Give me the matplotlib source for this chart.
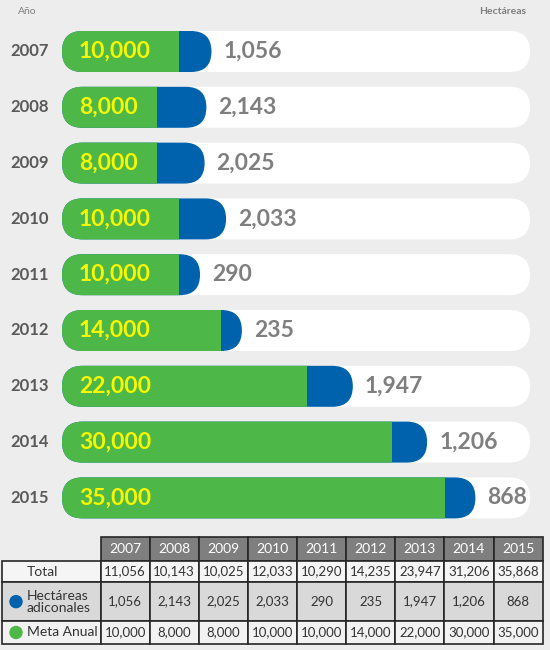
import matplotlib.pyplot as plt
from matplotlib.patches import FancyBboxPatch, Rectangle, Circle

plt.rcParams['font.family'] = ['Lato', 'DejaVu Sans']

# data
years = ['2007', '2008', '2009', '2010', '2011', '2012', '2013', '2014', '2015']
meta_anual = [10000, 8000, 8000, 10000, 10000, 14000, 22000, 30000, 35000]
hect_adicionales = [1056, 2143, 2025, 2033, 290, 235, 1947, 1206, 868]
totales = [11056, 10143, 10025, 12033, 10290, 14235, 23947, 31206, 35868]
row_labels = ['Total', 'Hectáreas\nadiconales', 'Meta Anual']

BG = '#ededed'
GREEN = '#4db848'
BLUE = '#0061ad'
YELLOW = '#f7f700'
GRAY = '#7f7f7f'

W, H = 550, 650
fig = plt.figure(figsize=(W / 100, H / 100), dpi=100, facecolor=BG)

# ---- bars: axes covering the top 530 px
px_per_unit = 0.01067          # hectares -> pixels
row_px = 55.8                  # pixels between rows
ax = fig.add_axes([0, (H - 530) / H, 1, 530 / H])
ax.set_xlim(-72 / px_per_unit, (W - 72) / px_per_unit)
ax.set_ylim((530 - 51.5) / row_px, -51.5 / row_px)
ax.axis('off')

ux = 1 / px_per_unit           # data x-units per pixel
uy = 1 / row_px                # data y-units per pixel
asp = uy / ux
bar_h = 41 * uy
rad = 20.5 * ux
x_left = -10 * ux
track_end = 458 * ux
style = f'round,pad=0,rounding_size={rad}'


def rbox(x1, x2, y, color, z):
    p = FancyBboxPatch((x1, y - bar_h / 2), x2 - x1, bar_h, boxstyle=style,
                       mutation_aspect=asp, facecolor=color, edgecolor='none', zorder=z)
    ax.add_patch(p)
    return p


for i, (yr, m, h) in enumerate(zip(years, meta_anual, hect_adicionales)):
    blue_end = m + 17 * ux + 1.4 * h
    rbox(x_left, track_end, i, 'white', 1)
    rbox(x_left, blue_end, i, BLUE, 2)
    g = rbox(x_left, blue_end, i, GREEN, 3)
    clip = Rectangle((x_left, i - bar_h), m - x_left, 2 * bar_h, transform=ax.transData)
    g.set_clip_path(clip)

    ax.text(-42 * ux, i, yr, ha='center', va='center', fontsize=12,
            fontweight='bold', color='#595959')
    ax.annotate(f'{m:,}', xy=(x_left, i), xytext=(17, 0), textcoords='offset pixels',
                ha='left', va='center', fontsize=16.5, fontweight='bold',
                color=YELLOW, zorder=5)
    ax.annotate(f'{h:,}', xy=(blue_end, i), xytext=(12, 0), textcoords='offset pixels',
                ha='left', va='center', fontsize=16.5, fontweight='bold',
                color=GRAY, zorder=5)

fig.text(18 / W, 1 - 12 / H, 'Año', ha='left', va='center', fontsize=7.5, color=GRAY)
fig.text(526 / W, 1 - 12 / H, 'Hectáreas', ha='right', va='center', fontsize=7.5,
         fontweight='bold', color=GRAY)

# ---- table in pixel coordinates
tax = fig.add_axes([0, 0, 1, 1], facecolor='none')
tax.set_xlim(0, W)
tax.set_ylim(H, 0)
tax.axis('off')

col_w = 49.13
col0 = 100.5
row_edges = [537.3, 560.7, 582.3, 621.0, 644.0]
row_bg = ['#f5f5f5', '#d9d9d9', '#f2f2f2']
edge = '#262626'

for j, yr in enumerate(years):
    x = col0 + j * col_w
    tax.add_patch(Rectangle((x, row_edges[0]), col_w, row_edges[1] - row_edges[0],
                            facecolor=GRAY, edgecolor=edge, lw=1.2))
    tax.text(x + col_w / 2, (row_edges[0] + row_edges[1]) / 2, yr, ha='center',
             va='center', fontsize=10, color='white')

table_rows = [totales, hect_adicionales, meta_anual]
for r, (lab, vals) in enumerate(zip(row_labels, table_rows)):
    y1, y2 = row_edges[r + 1], row_edges[r + 2]
    yc = (y1 + y2) / 2
    tax.add_patch(Rectangle((2, y1), col0 - 2, y2 - y1, facecolor=row_bg[r],
                            edgecolor=edge, lw=1.2))
    tax.text(27, yc, lab, ha='left', va='center', fontsize=10, color='#333333',
             linespacing=1.0)
    for j, v in enumerate(vals):
        x = col0 + j * col_w
        tax.add_patch(Rectangle((x, y1), col_w, y2 - y1, facecolor=row_bg[r],
                                edgecolor=edge, lw=1.2))
        tax.text(x + col_w / 2, yc, f'{v:,}', ha='center', va='center',
                 fontsize=9.5, color='#333333')

tax.add_patch(Circle((16, (row_edges[2] + row_edges[3]) / 2), 6, color=BLUE))
tax.add_patch(Circle((16, (row_edges[3] + row_edges[4]) / 2), 6, color=GREEN))

fig.savefig('out.png', dpi=100, facecolor=BG)
